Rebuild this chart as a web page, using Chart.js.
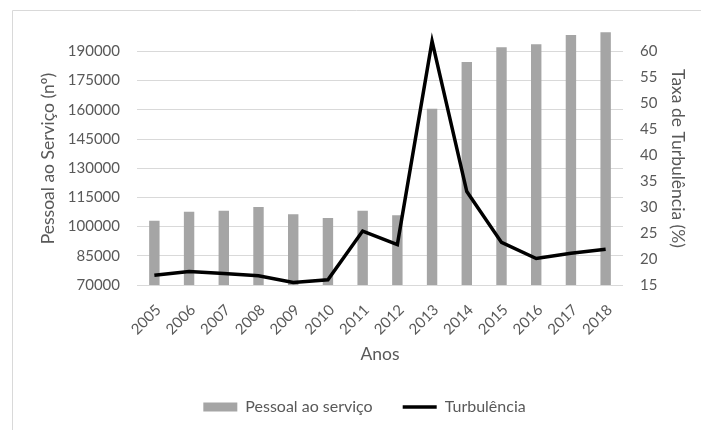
<!DOCTYPE html>
<html>
<head>
<meta charset="utf-8">
<script src="https://cdn.jsdelivr.net/npm/chart.js@4.4.1/dist/chart.umd.min.js"></script>
<style>
  html, body { margin: 0; padding: 0; background: #fff; }
  #wrap { width: 701px; height: 430px; }
</style>
</head>
<body>
<div id="wrap"><canvas id="myChart" width="701" height="430"></canvas></div>
<script>
const ctx = document.getElementById('myChart');

const anos = ['2005', '2006', '2007', '2008', '2009', '2010', '2011', '2012', '2013', '2014', '2015', '2016', '2017', '2018'];
const pessoal = [103000, 107700, 108200, 110100, 106300, 104400, 108200, 105800, 160600, 184600, 192200, 193700, 198500, 199900];
const turbulencia = [16.9, 17.6, 17.2, 16.8, 15.5, 16.0, 25.4, 22.8, 62.0, 33.0, 23.2, 20.1, 21.1, 21.9];
const ticksPessoal = [70000, 85000, 100000, 115000, 130000, 145000, 160000, 175000, 190000];
const ticksTaxa = [15, 20, 25, 30, 35, 40, 45, 50, 55, 60];

const cinza = '#595959';

Chart.defaults.color = cinza;
Chart.defaults.font.family = 'Lato';
Chart.defaults.font.size = 15;

// moldura cinzenta do grafico (so topo e esquerda aparecem)
const moldura = {
  id: 'moldura',
  beforeDraw(chart) {
    const c = chart.ctx;
    c.save();
    c.strokeStyle = '#D9D9D9';
    c.lineWidth = 1;
    c.beginPath();
    c.moveTo(12.5, 430);
    c.lineTo(12.5, 10.5);
    c.lineTo(701, 10.5);
    c.stroke();
    c.restore();
  }
};

new Chart(ctx, {
  type: 'bar',
  data: {
    labels: anos,
    datasets: [{
      label: 'Pessoal ao serviço',
      data: pessoal,
      backgroundColor: '#A5A5A5',
      borderWidth: 0,
      yAxisID: 'y',
      categoryPercentage: 1,
      barPercentage: 0.3,
      order: 1,
      pointStyle: 'rect'
    }, {
      type: 'line',
      label: 'Turbulência',
      data: turbulencia,
      borderColor: '#000000',
      backgroundColor: '#000000',
      borderWidth: 3.5,
      pointRadius: 0,
      tension: 0,
      yAxisID: 'y1',
      order: 0,
      clip: false,
      pointStyle: 'line'
    }]
  },
  options: {
    responsive: false,
    animation: false,
    layout: { padding: { left: 28, right: 0, top: 32, bottom: 5 } },
    plugins: {
      legend: {
        position: 'bottom',
        labels: {
          usePointStyle: true,
          pointStyleWidth: 34,
          boxHeight: 9,
          padding: 30,
          color: cinza,
          font: { size: 16 },
          sort: (a, b) => a.datasetIndex - b.datasetIndex
        }
      },
      tooltip: { enabled: false }
    },
    scales: {
      x: {
        offset: true,
        grid: { display: false, drawTicks: false },
        border: { display: false },
        ticks: { minRotation: 45, maxRotation: 45, padding: 16, labelOffset: 4, color: cinza },
        title: { display: true, text: 'Anos', color: cinza, font: { size: 17.5 }, padding: { top: 4, bottom: 4 } },
        afterFit(scale) { scale.height = 84; }
      },
      y: {
        position: 'left',
        min: 70000,
        max: 200000,
        grid: { color: '#D9D9D9', drawTicks: false },
        border: { display: false },
        afterBuildTicks(scale) { scale.ticks = ticksPessoal.map(v => ({ value: v })); },
        ticks: { padding: 17, color: cinza, callback: v => String(v) },
        title: { display: true, text: 'Pessoal ao Serviço (nº)', color: cinza, font: { size: 17.5 }, padding: { top: 10, bottom: 0 } },
        afterFit(scale) { scale.width = 109; }
      },
      y1: {
        position: 'right',
        min: 15,
        max: 63.75,
        grid: { display: false, drawTicks: false },
        border: { display: false },
        afterBuildTicks(scale) { scale.ticks = ticksTaxa.map(v => ({ value: v })); },
        ticks: { padding: 17, color: cinza, callback: v => String(v) },
        title: { display: true, text: 'Taxa de Turbulência (%)', color: cinza, font: { size: 17.5 }, padding: { top: 13, bottom: 0 } },
        afterFit(scale) { scale.width = 78; }
      }
    }
  },
  plugins: [moldura]
});
</script>
</body>
</html>
